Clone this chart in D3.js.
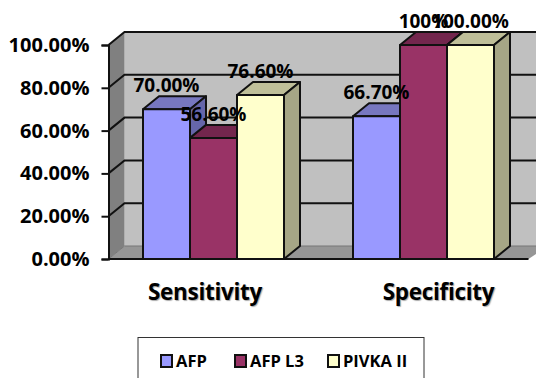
<!DOCTYPE html>
<html>
<head>
<meta charset="utf-8">
<script src="https://cdn.jsdelivr.net/npm/d3@7"></script>
<style>
  html, body { margin: 0; padding: 0; background: #fff; overflow: hidden; }
  text { font-family: "Open Sans", "Noto Sans", sans-serif; font-weight: 700; fill: #000; }
</style>
</head>
<body>
<div id="chart"></div>
<script>
// values
const categories = ["Sensitivity", "Specificity"];
const seriesNames = ["AFP", "AFP L3", "PIVKA II"];
const afp = [70, 66.7];
const afpL3 = [56.6, 100];
const pivka = [76.6, 100];
const afpLabels = ["70.00%", "66.70%"];
const afpL3Labels = ["56.60%", "100%"];
const pivkaLabels = ["76.60%", "100.00%"];
const yTicks = [0, 20, 40, 60, 80, 100];

const seriesValues = [afp, afpL3, pivka];
const seriesLabels = [afpLabels, afpL3Labels, pivkaLabels];

// front, top and side face colours of each series
const faces = [
  ["#9999ff", "#7777bf", "#6666aa"],
  ["#993366", "#73264d", "#73264d"],
  ["#ffffcc", "#bfbf99", "#a6a686"]
];

const width = 536, height = 378;
const depthX = 16, depthY = -13;   // the fake 3d offset
const plotLeft = 108.5, plotRight = 528.5;

const svg = d3.select("#chart").append("svg")
  .attr("width", width)
  .attr("height", height)
  .style("display", "block");

const x = d3.scaleBand().domain(categories).range([plotLeft, plotRight]);
const xSeries = d3.scaleBand().domain(d3.range(3)).range([0, 141]);
const y = d3.scaleLinear().domain([0, 100]).range([259, 45]);
const barOffset = (x.bandwidth() - xSeries.range()[1]) / 2;

const poly = pts => pts.map(p => p.join(",")).join(" ");

// walls
svg.append("rect")
  .attr("x", plotLeft + depthX).attr("y", y(100) + depthY)
  .attr("width", width - plotLeft - depthX).attr("height", y(0) - y(100))
  .attr("fill", "#c0c0c0");
svg.append("polygon")
  .attr("points", poly([[plotLeft, y(0)], [plotLeft + depthX, y(0) + depthY], [plotLeft + depthX, y(100) + depthY], [plotLeft, y(100)]]))
  .attr("fill", "#808080");
svg.append("polygon")
  .attr("points", poly([[plotLeft, y(0)], [plotLeft + depthX, y(0) + depthY], [width, y(0) + depthY], [width, y(0) - 5], [plotRight, y(0)]]))
  .attr("fill", "#969696");

// grid lines, on the side wall and the back wall
yTicks.forEach(t => {
  svg.append("polyline")
    .attr("points", poly([[plotLeft, y(t)], [plotLeft + depthX, y(t) + depthY], [width, y(t) + depthY]]))
    .attr("fill", "none")
    .attr("stroke", t === 0 ? "#777" : "#111")
    .attr("stroke-width", t === 0 ? 1 : 2);
});

// y axis
const yAxis = svg.append("g")
  .attr("transform", "translate(" + plotLeft + ",0)")
  .call(d3.axisLeft(y).tickValues(yTicks).tickSize(7).tickPadding(12).tickFormat(d => d.toFixed(2) + "%"));
yAxis.selectAll("path, line").attr("stroke", "#111").attr("stroke-width", 2);
yAxis.selectAll("text").attr("font-size", 20).attr("fill", "#000");

// floor front edge
svg.append("line")
  .attr("x1", plotLeft).attr("x2", plotRight)
  .attr("y1", y(0)).attr("y2", y(0))
  .attr("stroke", "#111").attr("stroke-width", 2);

// bars
categories.forEach((cat, c) => {
  seriesValues.forEach((vals, s) => {
    const g = svg.append("g");
    const x0 = x(cat) + barOffset + xSeries(s);
    const x1 = x0 + xSeries.bandwidth();
    const top = y(vals[c]);
    const base = y(0);
    g.append("polygon")
      .attr("points", poly([[x0, top], [x0 + depthX, top + depthY], [x1 + depthX, top + depthY], [x1, top]]))
      .attr("fill", faces[s][1]);
    g.append("polygon")
      .attr("points", poly([[x1, top], [x1 + depthX, top + depthY], [x1 + depthX, base + depthY], [x1, base]]))
      .attr("fill", faces[s][2]);
    g.append("rect")
      .attr("x", x0).attr("y", top)
      .attr("width", x1 - x0).attr("height", base - top)
      .attr("fill", faces[s][0]);
    g.selectAll("*")
      .attr("stroke", "#111").attr("stroke-width", 2).attr("stroke-linejoin", "round");
  });
});

// data labels go on top of everything
categories.forEach((cat, c) => {
  seriesValues.forEach((vals, s) => {
    svg.append("text")
      .attr("x", x(cat) + barOffset + xSeries(s) + xSeries.bandwidth() / 2)
      .attr("y", y(vals[c]) - 17)
      .attr("text-anchor", "middle")
      .attr("font-size", 19)
      .text(seriesLabels[s][c]);
  });
});

// category labels, not quite centred in the original
const catNudge = [-8.5, 15];
categories.forEach((cat, c) => {
  svg.append("text")
    .attr("x", x(cat) + x.bandwidth() / 2 + catNudge[c])
    .attr("y", 300)
    .attr("text-anchor", "middle")
    .attr("font-size", 22.5)
    .attr("letter-spacing", -0.3)
    .style("text-shadow", "1px 1px 1px #aaa")
    .text(cat);
});

// legend, its bottom edge is cut off by the picture
svg.append("rect")
  .attr("x", 138).attr("y", 337.5)
  .attr("width", 286).attr("height", 60)
  .attr("fill", "#fff").attr("stroke", "#333");
const legendX = [161, 235, 328];
seriesNames.forEach((name, s) => {
  svg.append("rect")
    .attr("x", legendX[s]).attr("y", 355)
    .attr("width", 11).attr("height", 12)
    .attr("fill", faces[s][0])
    .attr("stroke", "#111").attr("stroke-width", 2);
  svg.append("text")
    .attr("x", legendX[s] + 15).attr("y", 367)
    .attr("font-size", 16.5)
    .text(name);
});
</script>
</body>
</html>
